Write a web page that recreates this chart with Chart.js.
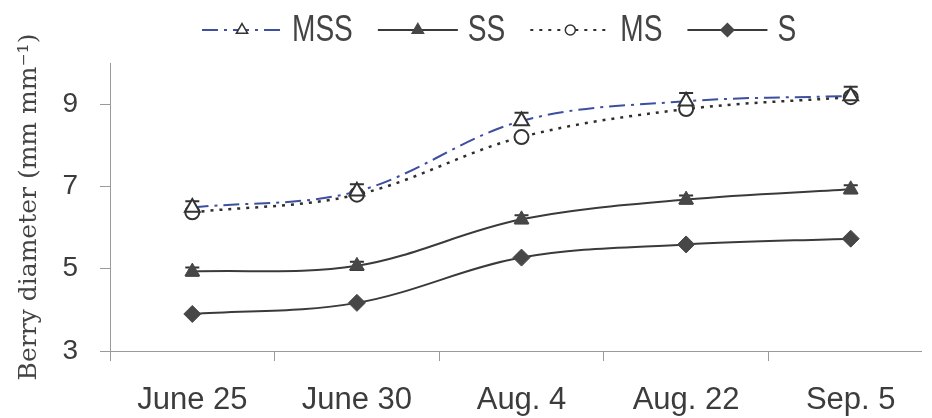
<!DOCTYPE html>
<html>
<head>
<meta charset="utf-8">
<script src="https://cdn.jsdelivr.net/npm/chart.js@4"></script>
<style>
  body { margin: 0; background: #fff; }
  canvas { display: block; }
</style>
</head>
<body>
<canvas id="berryChart" width="932" height="418"></canvas>
<script>
const days = ['June 25', 'June 30', 'Aug. 4', 'Aug. 22', 'Sep. 5'];
const mss = [6.49, 6.88, 8.59, 9.07, 9.20];
const ss = [4.93, 5.07, 6.20, 6.68, 6.93];
const ms = [6.37, 6.80, 8.20, 8.88, 9.17];
const s = [3.90, 4.17, 5.27, 5.59, 5.73];
const mssErr = [0.15, 0.17, 0.20, 0.20, 0.22];
const ssErr = [0.10, 0.10, 0.10, 0.10, 0.10];
const yTicks = [3, 5, 7, 9];

const SANS = "'Liberation Sans', Arial, sans-serif";
const AXIS_GREY = '#9a9a9a';
const INK = '#3c3c3c';

const toPoints = (arr) => arr.map((v, i) => ({ x: i, y: v }));

// error bars: upper caps for MSS, +/- for SS
const errorBars = {
    id: 'errorBars',
    beforeDatasetsDraw(chart) {
        const { ctx } = chart;
        const yScale = chart.scales.y;
        const xScale = chart.scales.x;
        const draw = (vals, errs, both) => {
            vals.forEach((v, i) => {
                const px = xScale.getPixelForValue(i);
                const top = yScale.getPixelForValue(v + errs[i]);
                const bot = both ? yScale.getPixelForValue(v - errs[i]) : yScale.getPixelForValue(v);
                ctx.beginPath();
                ctx.moveTo(px, top); ctx.lineTo(px, bot);
                ctx.moveTo(px - 7, top); ctx.lineTo(px + 7, top);
                if (both) { ctx.moveTo(px - 7, bot); ctx.lineTo(px + 7, bot); }
                ctx.stroke();
            });
        };
        ctx.save();
        ctx.strokeStyle = '#333';
        ctx.lineWidth = 2;
        draw(mss, mssErr, false);
        draw(ss, ssErr, true);
        ctx.restore();
    }
};

// legend with line sample + marker, like the original figure
const lineLegend = {
    id: 'lineLegend',
    afterDraw(chart) {
        const { ctx } = chart;
        const y = 30;
        let x = 202;
        ctx.save();
        chart.data.datasets.forEach((ds) => {
            ctx.beginPath();
            ctx.setLineDash(ds.borderDash || []);
            ctx.strokeStyle = ds.borderColor;
            ctx.lineWidth = 2;
            ctx.moveTo(x, y); ctx.lineTo(x + 80, y);
            ctx.stroke();
            ctx.setLineDash([]);
            ctx.fillStyle = ds.pointBackgroundColor;
            ctx.strokeStyle = ds.pointBorderColor;
            ctx.lineWidth = 1.5;
            Chart.helpers.drawPoint(ctx, {
                pointStyle: ds.pointStyle, rotation: 0,
                radius: ds.pointRadius - 2, borderWidth: 1.5
            }, x + 40, y);
            x += 90;
            ctx.font = '36px ' + SANS;
            ctx.fillStyle = '#444';
            ctx.textBaseline = 'middle';
            ctx.textAlign = 'left';
            const w = ctx.measureText(ds.label).width * 0.78;
            ctx.save();
            ctx.translate(x, y + 1);
            ctx.scale(0.78, 1);
            ctx.fillText(ds.label, 0, 0);
            ctx.restore();
            x += w + 25;
        });
        ctx.restore();
    }
};

new Chart(document.getElementById('berryChart').getContext('2d'), {
    type: 'line',
    data: {
        datasets: [
            {
                label: 'MSS', data: toPoints(mss),
                borderColor: '#3d4f9f', borderWidth: 2, borderDash: [16, 6, 3, 6],
                pointStyle: 'triangle', pointRadius: 8.5,
                pointBackgroundColor: '#fff', pointBorderColor: '#333', pointBorderWidth: 2,
            },
            {
                label: 'SS', data: toPoints(ss),
                borderColor: '#3a3a3a', borderWidth: 2,
                pointStyle: 'triangle', pointRadius: 8.5,
                pointBackgroundColor: '#474747', pointBorderColor: '#474747', pointBorderWidth: 1,
            },
            {
                label: 'MS', data: toPoints(ms),
                borderColor: '#2e2e2e', borderWidth: 2.5, borderDash: [3, 6],
                pointStyle: 'circle', pointRadius: 7,
                pointBackgroundColor: '#fff', pointBorderColor: '#333', pointBorderWidth: 2,
            },
            {
                label: 'S', data: toPoints(s),
                borderColor: '#3a3a3a', borderWidth: 2,
                pointStyle: 'rectRot', pointRadius: 8.5,
                pointBackgroundColor: '#474747', pointBorderColor: '#474747', pointBorderWidth: 1,
            },
        ],
    },
    options: {
        responsive: false,
        animation: false,
        tension: 0.35,
        layout: { padding: { top: 63, left: 0, right: 0, bottom: 0 } },
        plugins: {
            legend: { display: false },
            tooltip: { enabled: false },
        },
        scales: {
            x: {
                type: 'linear', position: 'bottom', min: -0.5, max: 4.43,
                afterBuildTicks: (sc) => { sc.ticks = days.map((d, i) => ({ value: i - 0.5 })); },
                afterFit: (sc) => { sc.height = 10; },
                ticks: { display: false },
                grid: { drawOnChartArea: false, tickLength: 10, color: AXIS_GREY },
                border: { color: AXIS_GREY },
            },
            xl: {
                type: 'linear', position: 'bottom', min: -0.5, max: 4.43,
                afterBuildTicks: (sc) => { sc.ticks = days.map((d, i) => ({ value: i })); },
                afterFit: (sc) => { sc.height = 57; },
                ticks: {
                    callback: (v) => days[v] ?? '',
                    font: { family: SANS, size: 31 }, color: INK,
                    padding: 21, maxRotation: 0, autoSkip: false,
                },
                grid: { display: false, drawTicks: false },
                border: { display: false },
            },
            y: {
                min: 3, max: 10,
                afterBuildTicks: (sc) => { sc.ticks = yTicks.map((v) => ({ value: v })); },
                afterFit: (sc) => { sc.width = 110; },
                ticks: { font: { family: SANS, size: 28 }, color: INK, padding: 22 },
                grid: { drawOnChartArea: false, tickLength: 10, color: AXIS_GREY },
                border: { color: AXIS_GREY },
                title: {
                    display: true, text: 'Berry diameter (mm mm\u207B\u00B9)',
                    font: { family: "'DejaVu Serif', serif", size: 25 }, color: '#444',
                    padding: { top: 14, bottom: 0 },
                },
            },
        },
    },
    plugins: [errorBars, lineLegend],
});
</script>
</body>
</html>
